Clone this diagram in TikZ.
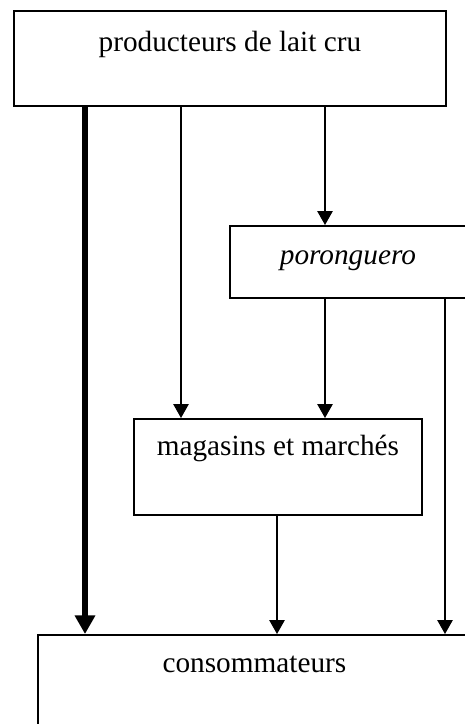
\documentclass[tikz,border=0pt]{standalone}
\usepackage{fontspec}
\setmainfont{Liberation Serif}
\usetikzlibrary{arrows.meta}
\newcommand{\px}{0.41pt}

\begin{document}
\begin{tikzpicture}[x=0.41pt, y=-0.41pt]
        \tikzset{box/.style = {shape=rectangle, draw, line width=0.75pt, anchor=north west, inner sep=0pt, font=\fontsize{12}{14}\selectfont}}
        \tikzset{flow/.style = {-{Triangle[width=6.3pt, length=5.7pt]}, line width=0.55pt}}
        \tikzset{flowthick/.style = {-{Triangle[width=8pt, length=7.6pt]}, line width=2.4pt}}
        \useasboundingbox (0,0) rectangle (464,724);
        % boxes
        \node[box, minimum width=432*\px, minimum height=95*\px, text height=41*\px, text depth=54*\px] (prod) at (13,10) {producteurs de lait cru};
        \node[box, minimum width=236*\px, minimum height=72*\px, text height=39*\px, text depth=33*\px] (poro) at (229,225) {\textit{poronguero}};
        \node[box, minimum width=288*\px, minimum height=96*\px, text height=37*\px, text depth=59*\px] (mag) at (133,418) {magasins et marchés};
        \node[box, minimum width=433*\px, minimum height=120*\px, text height=38*\px, text depth=82*\px] (cons) at (37,634) {consommateurs};

        % arrows
        \draw[flowthick] (prod.south -| 85,0) to (cons.north -| 85,0);
        \draw[flow] (prod.south -| 181,0) to (mag.north -| 181,0);
        \draw[flow] (prod.south -| 325,0) to (poro.north -| 325,0);
        \draw[flow] (poro.south -| 325,0) to (mag.north -| 325,0);
        \draw[flow] (poro.south -| 445,0) to (cons.north -| 445,0);
        \draw[flow] (mag.south -| 277,0) to (cons.north -| 277,0);
\end{tikzpicture}
\end{document}
